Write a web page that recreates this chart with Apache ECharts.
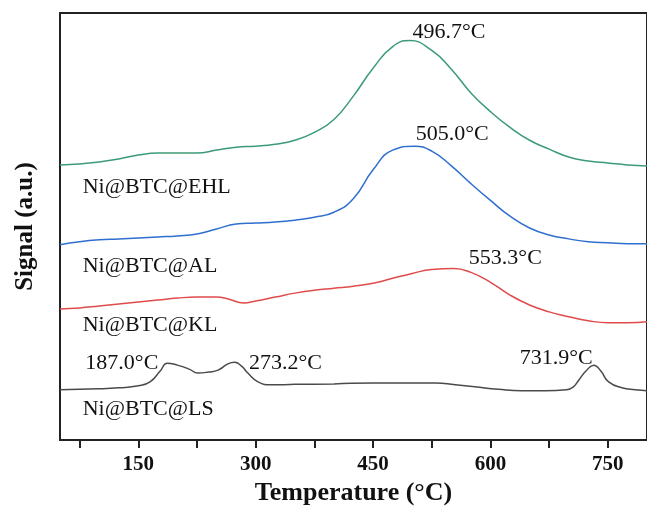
<!DOCTYPE html>
<html>
<head>
<meta charset="utf-8">
<script src="https://cdn.jsdelivr.net/npm/echarts@6/dist/echarts.min.js"></script>
<style>html,body{margin:0;padding:0;background:#fff;}#c{width:647px;height:511px;}</style>
</head>
<body>
<div id="c"></div>
<script>
// Temperature (°C) / signal (a.u., offset stacked) pairs
const ehl = [[50,279],[75,280],[100,282],[125,285],[150,289],[175,291],[200,291],[225,291],[250,294],[275,297],[300,298],[325,300],[350,304],[375,312],[400,325],[425,349],[450,377],[475,399],[497,405],[525,395],[550,376],[575,352],[600,333],[625,317],[650,304],[675,295],[700,287],[725,283],[750,281],[775,279],[800,278]];
const al = [[50,198],[75,201],[100,203],[125,204],[150,205],[175,206],[200,207],[225,209],[250,214],[275,219],[300,220],[325,221],[350,223],[375,226],[400,231],[425,245],[450,274],[475,294],[503,298],[525,293],[550,278],[575,260],[600,243],[625,227],[650,215],[675,208],[700,204],[725,201],[750,200],[775,199],[800,199]];
const kl = [[50,133],[75,134],[100,136],[125,138],[150,140],[175,142],[200,144],[225,145],[250,145],[265,143],[285,139],[300,141],[325,145],[350,149],[375,152],[400,154],[425,156],[450,159],[475,164],[500,169],[525,173],[553,174],[575,170],[600,160],[625,147],[650,137],[675,130],[700,125],[725,121],[750,119],[775,119],[800,120]];
const ls = [[50,51],[100,52],[125,53],[150,55],[165,59],[178,70],[187,78],[200,76],[215,72],[226,68],[240,69],[252,71],[264,77],[273,79],[282,75],[290,68],[303,59],[320,56],[350,56.5],[400,57],[450,58],[500,58],[530,58],[555,56],[580,54],[610,51.5],[640,50],[670,50],[697,51],[706,54],[713,61],[722,70],[732,76],[741,70],[751,59],[768,53],[785,51],[800,50]];
const seriesNames = ['Ni@BTC@EHL','Ni@BTC@AL','Ni@BTC@KL','Ni@BTC@LS'];
const seriesColors = ['#3c9b77','#2f6fcf','#e04b4b','#4a4a4a'];
const xTicks = [75,150,225,300,375,450,525,600,675,750];
const xLabels = [150,300,450,600,750];
// [text, temperature, signal] anchors for the annotations
const nameLabels = [['Ni@BTC@EHL',79,256],['Ni@BTC@AL',79,176],['Ni@BTC@KL',79,116],['Ni@BTC@LS',79,31]];
const peakLabels = [['496.7°C',547,414],['505.0°C',551,310],['553.3°C',619,184],['731.9°C',684,83],['187.0°C',129,78],['273.2°C',338,78]];

const FONT = "'Times New Roman','Liberation Serif',serif";
const chart = echarts.init(document.getElementById('c'));
const datasets = [ehl, al, kl, ls];
const series = datasets.map((d, i) => ({
  type: 'line', name: seriesNames[i], data: d, smooth: 0.5, showSymbol: false,
  lineStyle: {color: seriesColors[i], width: 1.5}, itemStyle: {color: seriesColors[i]}, silent: true
}));
series.push({
  type: 'scatter', data: [], silent: true,
  markPoint: {
    symbol: 'circle', symbolSize: 0, silent: true,
    data: nameLabels.map(a => ({coord: [a[1], a[2]], label: {show: true, formatter: a[0], position: 'right', distance: 0, color: '#111', fontSize: 22, fontFamily: FONT}}))
      .concat(peakLabels.map(a => ({coord: [a[1], a[2]], label: {show: true, formatter: a[0], position: 'inside', color: '#111', fontSize: 22, fontFamily: FONT}})))
  }
});
chart.setOption({
  animation: false,
  grid: {left: 60, right: -1, top: 13, bottom: 65, show: true, borderColor: '#222', borderWidth: 2},
  xAxis: {
    type: 'value', min: 50, max: 800,
    name: 'Temperature (°C)', nameLocation: 'middle', nameGap: 38,
    nameTextStyle: {fontFamily: FONT, fontWeight: 'bold', fontSize: 26, color: '#111'},
    axisLine: {lineStyle: {color: '#222', width: 2}},
    axisTick: {show: true, customValues: xTicks, length: 8, lineStyle: {color: '#222', width: 2}},
    axisLabel: {customValues: xLabels, margin: 14, fontFamily: FONT, fontWeight: 'bold', fontSize: 21, color: '#111'},
    splitLine: {show: false}
  },
  yAxis: {
    type: 'value', min: 0, max: 433,
    name: 'Signal (a.u.)', nameLocation: 'middle', nameGap: 22,
    nameTextStyle: {fontFamily: FONT, fontWeight: 'bold', fontSize: 25, color: '#111'},
    axisLine: {show: true, lineStyle: {color: '#222', width: 2}},
    axisTick: {show: false}, axisLabel: {show: false}, splitLine: {show: false}
  },
  series: series
});
</script>
</body>
</html>
